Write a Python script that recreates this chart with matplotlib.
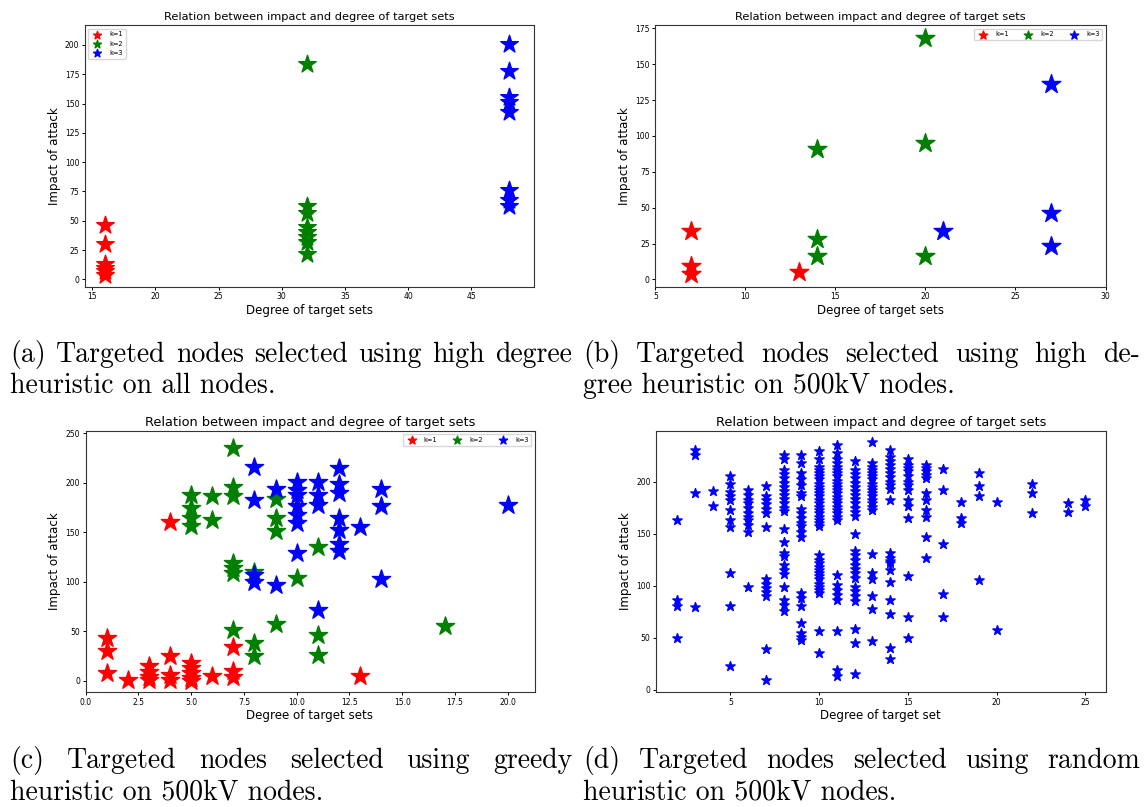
import matplotlib
matplotlib.use("Agg")
import matplotlib.pyplot as plt
import numpy as np

# (a) high degree heuristic, all nodes
a_deg = {"k=1": [16, 16, 16, 16, 16, 16],
         "k=2": [32, 32, 32, 32, 32, 32, 32, 32],
         "k=3": [48, 48, 48, 48, 48, 48, 48, 48]}
a_imp = {"k=1": [46, 30, 13, 10, 7, 4],
         "k=2": [184, 63, 57, 45, 40, 36, 32, 22],
         "k=3": [201, 178, 156, 151, 143, 76, 68, 63]}

# (b) high degree heuristic, 500kV nodes
b_deg = {"k=1": [7, 7, 7, 13],
         "k=2": [14, 14, 14, 20, 20, 20],
         "k=3": [21, 27, 27, 27]}
b_imp = {"k=1": [34, 9, 4, 5],
         "k=2": [91, 28, 16, 168, 95, 16],
         "k=3": [34, 136, 46, 23]}

# (c) greedy heuristic, 500kV nodes
c_deg = {"k=1": [1, 1, 1, 2, 3, 3, 3, 3, 4, 4, 4, 4, 5, 5, 5, 5, 5, 6, 7, 7, 7, 13],
         "k=2": [5, 5, 5, 5, 6, 6, 7, 7, 7, 7, 7, 7, 7, 8, 8, 8, 9, 9, 9, 9,
                 10, 11, 11, 11, 17],
         "k=3": [8, 8, 8, 8, 9, 9, 10, 10, 10, 10, 10, 10, 10, 11, 11, 11, 11,
                 12, 12, 12, 12, 12, 12, 12, 13, 14, 14, 14, 20]}
c_imp = {"k=1": [43, 30, 8, 1, 15, 9, 4, 1, 160, 25, 6, 1, 18, 13, 8, 3, 0, 5,
                 34, 10, 4, 5],
         "k=2": [188, 175, 164, 156, 187, 162, 235, 196, 187, 119, 114, 109, 51,
                 110, 38, 25, 184, 164, 151, 57, 104, 135, 46, 26, 55],
         "k=3": [216, 183, 107, 100, 194, 97, 201, 193, 188, 177, 168, 159, 129,
                 201, 188, 178, 71, 215, 199, 190, 164, 152, 138, 131, 155, 194,
                 177, 103, 178]}

# (d) random heuristic, 500kV nodes: one impact list per degree
rand_degree = [2, 3, 4, 5, 6, 7, 8, 9, 10, 11, 12, 13, 14, 15, 16, 17, 18, 19,
               20, 22, 24, 25]
rand_impact = [
    [163, 86, 80, 50],
    [230, 226, 189, 79],
    [191, 177],
    [205, 198, 190, 186, 182, 173, 163, 156, 112, 80, 23],
    [192, 187, 182, 179, 175, 170, 166, 163, 158, 152, 99],
    [196, 186, 182, 178, 174, 170, 156, 106, 102, 98, 94, 90, 39, 9],
    [226, 222, 211, 207, 203, 199, 195, 191, 187, 183, 179, 175, 172, 154, 142,
     131, 128, 120, 115, 111, 99, 86, 81, 76],
    [226, 218, 208, 202, 197, 189, 186, 174, 170, 165, 160, 157, 152, 147, 93,
     88, 80, 64, 54, 51, 48],
    [229, 222, 214, 211, 208, 205, 202, 198, 195, 192, 189, 186, 182, 179, 176,
     173, 170, 166, 163, 160, 157, 129, 125, 122, 118, 115, 112, 109, 106, 102,
     99, 96, 93, 56, 35],
    [235, 227, 222, 218, 214, 211, 208, 205, 201, 198, 195, 192, 189, 185, 182,
     179, 176, 173, 170, 166, 163, 110, 101, 96, 91, 86, 56, 19, 13],
    [220, 211, 207, 203, 199, 195, 191, 187, 183, 179, 175, 171, 167, 150, 133,
     129, 125, 120, 116, 112, 107, 99, 95, 90, 85, 58, 45, 15],
    [238, 218, 214, 211, 208, 205, 202, 198, 195, 192, 189, 186, 182, 179, 176,
     173, 130, 112, 106, 90, 78, 47],
    [230, 224, 220, 216, 212, 208, 204, 200, 197, 193, 182, 131, 127, 124, 122,
     115, 103, 86, 73, 40, 29],
    [222, 216, 213, 210, 205, 200, 197, 192, 182, 177, 165, 109, 70, 50],
    [216, 213, 210, 206, 203, 189, 182, 173, 166, 147, 127],
    [212, 192, 140, 92, 70],
    [180, 165, 160],
    [208, 196, 186, 105],
    [180, 57],
    [198, 189, 170],
    [179, 171],
    [182, 177],
]

colors = {"k=1": "red", "k=2": "green", "k=3": "blue"}
TITLE = "Relation between impact and degree of target sets"

captions = [
    ("(a) Targeted nodes selected using high degree", "heuristic on all nodes."),
    ("(b)  Targeted  nodes  selected  using  high  de-", "gree heuristic on 500kV nodes."),
    ("(c)  Targeted  nodes  selected  using  greedy", "heuristic on 500kV nodes."),
    ("(d) Targeted nodes selected using random", "heuristic on 500kV nodes."),
]

W, H = 1145, 807
fig = plt.figure(figsize=(W / 100, H / 100), dpi=100)


def px_axes(l, t, r, b):
    return fig.add_axes([l / W, 1 - b / H, (r - l) / W, (b - t) / H])


def style(ax, title_size, xlabel="Degree of target sets"):
    ax.set_title(TITLE, fontsize=title_size, pad=3.5)
    ax.set_xlabel(xlabel, fontsize=8.6, labelpad=2)
    ax.set_ylabel("Impact of attack", fontsize=8.6, labelpad=3)
    ax.tick_params(labelsize=5.5, length=2.5, pad=1.5, width=0.7)
    for sp in ax.spines.values():
        sp.set_color("#333333")
        sp.set_linewidth(0.8)


def star_panel(ax, deg, imp, size, legend_kw):
    for k in ["k=1", "k=2", "k=3"]:
        ax.scatter(deg[k], imp[k], marker="*", s=size, color=colors[k], label=k)
    ax.legend(fontsize=4.8, markerscale=0.45, **legend_kw)


ax_a = px_axes(84.8, 25.3, 534.2, 286.7)
star_panel(ax_a, a_deg, a_imp, 175, dict(loc="upper left"))
ax_a.set_xlim(14.42, 49.97)
ax_a.set_ylim(-6.3, 216.8)
ax_a.set_xticks(np.arange(15, 50, 5))
ax_a.set_yticks(np.arange(0, 201, 25))
style(ax_a, 8.2)

ax_b = px_axes(655.4, 25.3, 1105.5, 286.7)
star_panel(ax_b, b_deg, b_imp, 200, dict(loc="upper right", ncol=3))
ax_b.set_xlim(5, 30)
ax_b.set_ylim(-5.1, 177.1)
ax_b.set_xticks(np.arange(5, 31, 5))
ax_b.set_yticks(np.arange(0, 176, 25))
style(ax_b, 8.2)

ax_c = px_axes(85.5, 431, 534.5, 692)
star_panel(ax_c, c_deg, c_imp, 190, dict(loc="upper right", ncol=3))
ax_c.set_xlim(0, 21.26)
ax_c.set_ylim(-11.4, 252.4)
ax_c.set_xticks(np.arange(0, 20.1, 2.5))
ax_c.set_yticks(np.arange(0, 251, 50))
style(ax_c, 9.3)

ax_d = px_axes(656.1, 431, 1105.5, 692)
d_x = np.concatenate([[d] * len(v) for d, v in zip(rand_degree, rand_impact)])
d_y = np.concatenate(rand_impact)
ax_d.scatter(d_x, d_y, marker="*", s=50, color="blue")
ax_d.set_xlim(0.82, 26.13)
ax_d.set_ylim(-2.24, 248.6)
ax_d.set_xticks(np.arange(5, 26, 5))
ax_d.set_yticks(np.arange(0, 201, 50))
style(ax_d, 9.3, xlabel="Degree of target set")

# captions, LaTeX-like: first line justified, second line ragged
cap_kw = dict(fontfamily="cmr10", fontsize=20, va="baseline", ha="left")
renderer = fig.canvas.get_renderer()


def caption(x0, x1, y1, y2, first, second):
    words = first.split()
    objs = [fig.text(0, 1 - y1 / H, w, **cap_kw) for w in words]
    widths = [o.get_window_extent(renderer).width for o in objs]
    gap = (x1 - x0 - sum(widths)) / (len(words) - 1)
    x = x0
    for o, w in zip(objs, widths):
        o.set_x(x / W)
        x += w + gap
    fig.text(x0 / W, 1 - y2 / H, second, **cap_kw)


caption(10, 572, 362, 393, *captions[0])
caption(583, 1140, 362, 393, *captions[1])
caption(10, 572, 768, 800, *captions[2])
caption(583, 1140, 768, 800, *captions[3])

fig.savefig("out.png", dpi=100)
